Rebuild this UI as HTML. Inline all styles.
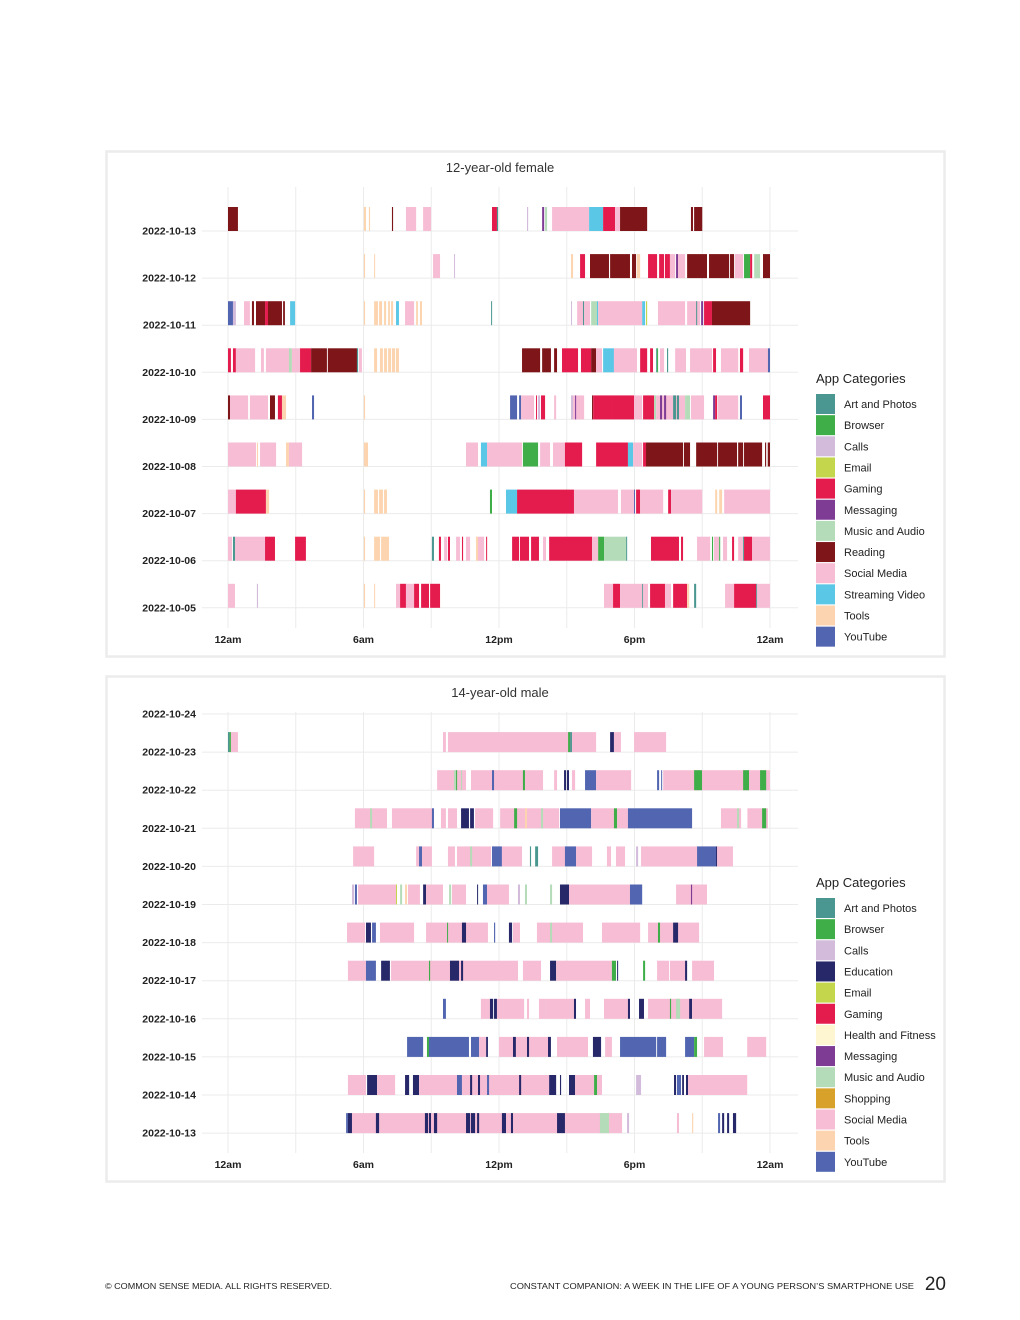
<!DOCTYPE html>
<html><head><meta charset="utf-8">
<style>
html,body{margin:0;padding:0;background:#fff;width:1020px;height:1320px;overflow:hidden}
svg{display:block}
text{font-family:"Liberation Sans",sans-serif}
</style></head>
<body>
<svg id="page" width="1020" height="1320" viewBox="0 0 1020 1320">
  <rect x="106.5" y="151.5" width="838" height="505" fill="#fff" stroke="#ececec" stroke-width="2.5"/>
  <rect x="106.5" y="676.5" width="838" height="505" fill="#fff" stroke="#ececec" stroke-width="2.5"/>
  <text x="500" y="172" font-size="13" fill="#333" text-anchor="middle">12-year-old female</text>
  <text x="500" y="697" font-size="13" fill="#333" text-anchor="middle">14-year-old male</text>
  <g id="g1"></g>
  <g id="g2"></g>
  <g id="leg1"></g>
  <g id="leg2"></g>
  <text x="105" y="1289" font-size="8.5" fill="#222" textLength="227" lengthAdjust="spacingAndGlyphs">© COMMON SENSE MEDIA. ALL RIGHTS RESERVED.</text>
  <text x="510" y="1289" font-size="8.5" fill="#222" textLength="404" lengthAdjust="spacingAndGlyphs">CONSTANT COMPANION: A WEEK IN THE LIFE OF A YOUNG PERSON’S SMARTPHONE USE</text>
  <text x="946" y="1290" font-size="19" fill="#222" text-anchor="end">20</text>
</svg>
<script>
const colors={A:'#4a9690',B:'#3fae49',C:'#d3bcdb',D:'#27286a',E:'#c4d64b',G:'#e41c4e',H:'#fdf6d0',M:'#7e3c95',U:'#b5dcb8',P:'#d8a22a',R:'#7e1518',S:'#f6bdd4',V:'#5bc7e6',T:'#fcd5b0',Y:'#5265b0'};
const catNames={A:'Art and Photos',B:'Browser',C:'Calls',D:'Education',E:'Email',G:'Gaming',H:'Health and Fitness',M:'Messaging',U:'Music and Audio',P:'Shopping',R:'Reading',S:'Social Media',V:'Streaming Video',T:'Tools',Y:'YouTube'};
const legend1=['A','B','C','E','G','M','U','R','S','V','T','Y'];
const legend2=['A','B','C','D','E','G','H','M','U','P','S','T','Y'];
const xTickHours=[0,6,12,18,24];
const xTickLabels=['12am','6am','12pm','6pm','12am'];
const dates1=['2022-10-13','2022-10-12','2022-10-11','2022-10-10','2022-10-09','2022-10-08','2022-10-07','2022-10-06','2022-10-05'];
const dates2=['2022-10-24','2022-10-23','2022-10-22','2022-10-21','2022-10-20','2022-10-19','2022-10-18','2022-10-17','2022-10-16','2022-10-15','2022-10-14','2022-10-13'];
const f13=[[0,0.44,'R'],[6.02,6.11,'T'],[6.24,6.29,'T'],[7.26,7.31,'R'],[7.88,8.33,'S'],[8.64,8.99,'S'],[11.69,11.91,'G'],[11.91,11.96,'A'],[13.24,13.29,'C'],[13.91,14.0,'M'],[14.04,14.13,'U'],[14.35,15.99,'S'],[15.99,16.61,'V'],[16.61,17.14,'G'],[17.14,17.36,'S'],[17.36,18.56,'R'],[20.5,20.59,'R'],[20.64,21.0,'R']];
const f12=[[6.02,6.07,'T'],[6.47,6.51,'T'],[9.08,9.39,'S'],[10.01,10.05,'C'],[15.19,15.28,'T'],[15.59,15.81,'G'],[16.03,16.87,'R'],[16.92,17.8,'R'],[17.89,18.07,'R'],[18.11,18.25,'T'],[18.6,19.0,'G'],[19.09,19.31,'G'],[19.35,19.57,'G'],[19.57,19.8,'S'],[19.84,19.93,'M'],[19.93,20.24,'S'],[20.33,21.21,'R'],[21.3,22.19,'R'],[22.23,22.41,'R'],[22.45,22.81,'S'],[22.85,23.12,'B'],[23.12,23.21,'G'],[23.3,23.56,'U'],[23.69,24.0,'R']];
const f11=[[0,0.22,'Y'],[0.22,0.35,'C'],[0.71,0.97,'S'],[1.06,1.15,'R'],[1.24,1.64,'R'],[1.64,1.77,'G'],[1.77,2.39,'R'],[2.44,2.52,'R'],[2.75,2.97,'V'],[6.02,6.07,'T'],[6.47,6.64,'T'],[6.69,6.82,'T'],[6.91,7.0,'T'],[7.09,7.17,'T'],[7.22,7.31,'T'],[7.44,7.57,'V'],[7.84,8.24,'S'],[8.33,8.41,'T'],[8.5,8.59,'T'],[11.65,11.69,'A'],[15.19,15.23,'C'],[15.46,15.72,'S'],[15.72,15.77,'A'],[15.77,16.03,'S'],[16.08,16.34,'U'],[16.34,16.39,'V'],[16.39,18.34,'S'],[18.34,18.47,'V'],[18.51,18.56,'E'],[19.04,20.24,'S'],[20.33,20.9,'S'],[20.73,20.77,'A'],[20.95,21.04,'M'],[21.08,21.43,'G'],[21.43,23.12,'R']];
const f10=[[0,0.13,'G'],[0.22,0.35,'G'],[0.35,1.2,'S'],[1.46,1.59,'S'],[1.68,2.75,'S'],[2.7,2.83,'U'],[2.83,3.19,'S'],[3.19,3.68,'G'],[3.68,4.38,'R'],[4.42,5.71,'R'],[5.71,5.76,'A'],[5.8,5.93,'S'],[6.47,6.6,'T'],[6.73,6.86,'T'],[6.91,7.04,'T'],[7.09,7.22,'T'],[7.26,7.4,'T'],[7.44,7.57,'T'],[13.02,13.82,'R'],[13.91,14.3,'R'],[14.44,14.57,'R'],[14.79,15.5,'G'],[15.63,16.08,'G'],[16.08,16.3,'R'],[16.3,16.56,'S'],[16.61,17.09,'V'],[17.09,18.11,'S'],[18.25,18.56,'G'],[18.69,18.82,'G'],[18.96,19.0,'A'],[19.0,19.04,'B'],[19.13,19.31,'S'],[19.44,19.49,'A'],[19.8,20.28,'S'],[20.46,21.43,'S'],[21.48,21.61,'G'],[21.83,22.59,'S'],[22.67,22.81,'G'],[23.07,23.91,'S'],[23.91,24.0,'Y']];
const f09=[[0,0.09,'R'],[0.09,0.89,'S'],[0.97,1.77,'S'],[1.86,2.08,'R'],[2.21,2.39,'G'],[2.39,2.57,'T'],[3.72,3.81,'Y'],[6.02,6.07,'T'],[12.49,12.8,'Y'],[12.89,12.98,'Y'],[12.98,13.55,'S'],[13.64,13.68,'G'],[13.73,13.82,'C'],[13.86,14.04,'G'],[14.44,14.53,'S'],[15.19,15.28,'C'],[15.28,15.77,'S'],[15.37,15.41,'M'],[16.12,16.17,'R'],[16.17,16.96,'G'],[16.96,17.98,'G'],[17.98,18.34,'S'],[18.38,18.87,'G'],[18.87,18.96,'U'],[18.96,20.24,'S'],[19.13,19.22,'M'],[19.31,19.4,'M'],[19.71,19.84,'A'],[19.88,19.97,'A'],[20.24,20.46,'U'],[20.5,21.08,'S'],[21.48,21.57,'M'],[21.57,21.66,'G'],[21.7,22.59,'S'],[22.67,22.76,'Y'],[23.69,24.0,'G']];
const f08=[[0,1.24,'S'],[1.28,1.33,'T'],[1.42,2.13,'S'],[2.57,2.7,'T'],[2.7,3.28,'S'],[6.02,6.2,'T'],[10.54,11.07,'S'],[11.2,11.47,'V'],[11.47,13.02,'S'],[13.06,13.73,'B'],[13.82,14.26,'S'],[14.39,14.92,'S'],[14.92,15.68,'G'],[16.3,17.71,'G'],[17.71,17.94,'V'],[17.94,18.34,'S'],[18.38,18.51,'G'],[18.51,20.15,'R'],[20.19,20.46,'R'],[20.73,21.66,'R'],[21.7,22.54,'R'],[22.59,22.81,'R'],[22.85,23.65,'R'],[23.78,23.83,'R'],[23.9,24.0,'R']];
const f07=[[0,0.35,'S'],[0.35,1.68,'G'],[1.68,1.82,'T'],[6.02,6.07,'T'],[6.47,6.64,'T'],[6.69,6.86,'T'],[6.91,7.04,'T'],[11.6,11.69,'B'],[12.31,12.8,'V'],[12.8,15.32,'G'],[15.32,17.27,'S'],[17.4,17.98,'S'],[17.98,18.02,'Y'],[18.07,18.25,'G'],[18.25,19.27,'S'],[19.49,19.62,'G'],[19.62,21.0,'S'],[21.57,21.66,'T'],[21.75,21.88,'T'],[21.97,24.0,'S']];
const f06=[[0,0.18,'S'],[0.22,0.31,'A'],[0.31,1.64,'S'],[1.64,2.08,'G'],[2.97,3.45,'G'],[6.02,6.07,'T'],[6.47,6.73,'T'],[6.78,7.13,'T'],[9.03,9.12,'A'],[9.34,9.43,'G'],[9.57,9.7,'S'],[9.74,9.83,'G'],[10.1,10.27,'S'],[10.36,10.41,'G'],[10.54,10.72,'S'],[10.98,11.07,'T'],[11.07,11.34,'S'],[11.43,11.47,'G'],[12.58,12.89,'G'],[12.93,13.33,'G'],[13.42,13.77,'G'],[13.95,14.08,'S'],[14.22,16.12,'G'],[16.12,16.39,'S'],[16.39,16.65,'B'],[16.65,17.63,'U'],[17.63,17.67,'A'],[18.73,19.97,'G'],[20.06,20.15,'G'],[20.77,21.35,'S'],[21.43,21.48,'B'],[21.52,21.75,'S'],[21.75,21.79,'B'],[21.92,22.1,'S'],[22.32,22.41,'G'],[22.59,22.81,'S'],[22.81,22.85,'A'],[22.85,23.21,'G'],[23.21,24.0,'S']];
const f05=[[0,0.31,'S'],[1.28,1.33,'C'],[6.02,6.07,'T'],[6.47,6.51,'T'],[7.44,7.62,'S'],[7.62,7.88,'G'],[7.88,8.24,'S'],[8.24,8.46,'G'],[8.55,8.9,'G'],[8.95,9.39,'G'],[16.65,17.05,'S'],[17.05,17.36,'G'],[17.36,18.34,'S'],[18.34,18.38,'A'],[18.38,18.6,'S'],[18.69,19.35,'G'],[19.35,19.62,'S'],[19.71,20.33,'G'],[20.33,20.42,'T'],[20.64,20.73,'A'],[22.01,22.41,'S'],[22.41,23.39,'G'],[23.39,23.43,'A'],[23.43,24.0,'S']];
const m24=[];
const m23=[[0,0.07,'A'],[0.07,0.13,'B'],[0.13,0.44,'S'],[9.52,9.65,'S'],[9.74,16.3,'S'],[15.06,15.15,'B'],[15.15,15.23,'A'],[16.92,17.09,'D'],[17.09,17.4,'S'],[17.98,19.4,'S']];
const m22=[[9.26,10.54,'S'],[10.01,10.1,'U'],[10.1,10.14,'B'],[10.32,10.36,'U'],[10.76,13.95,'S'],[11.69,11.78,'Y'],[13.06,13.15,'B'],[14.44,14.57,'S'],[14.88,14.97,'D'],[15.01,15.1,'D'],[15.23,15.37,'S'],[15.81,16.3,'Y'],[16.3,17.85,'S'],[19.0,19.09,'Y'],[19.18,19.22,'Y'],[19.27,24.0,'S'],[20.64,20.99,'B'],[22.81,23.07,'B'],[23.56,23.83,'B']];
const m21=[[5.62,7.04,'S'],[6.29,6.38,'U'],[7.26,9.08,'S'],[9.03,9.12,'Y'],[9.43,9.65,'S'],[9.74,10.14,'S'],[10.32,10.67,'D'],[10.72,10.89,'D'],[10.94,11.74,'S'],[12.05,14.66,'S'],[12.67,12.8,'B'],[13.15,13.24,'T'],[13.86,13.95,'U'],[14.7,16.08,'Y'],[16.08,17.09,'S'],[17.09,17.23,'B'],[17.23,17.71,'S'],[17.71,20.55,'Y'],[21.83,22.72,'S'],[22.54,22.63,'U'],[23.0,23.91,'S'],[23.65,23.83,'B']];
const m20=[[5.54,6.47,'S'],[8.33,8.46,'S'],[8.46,8.59,'Y'],[8.59,9.03,'S'],[9.74,10.05,'S'],[10.14,11.65,'S'],[10.72,10.81,'U'],[11.69,12.13,'Y'],[12.13,13.02,'S'],[13.37,13.42,'A'],[13.6,13.73,'A'],[14.35,14.92,'S'],[14.92,15.41,'Y'],[15.41,16.12,'S'],[16.78,16.96,'S'],[17.18,17.58,'S'],[18.07,18.16,'C'],[18.29,20.77,'S'],[20.77,21.61,'Y'],[21.61,21.66,'D'],[21.66,22.36,'S']];
const m19=[[5.49,5.58,'C'],[5.62,5.71,'Y'],[5.76,7.48,'S'],[7.44,7.48,'E'],[7.62,7.71,'U'],[7.84,7.93,'T'],[7.97,8.5,'S'],[8.64,8.77,'D'],[8.77,9.52,'S'],[9.79,9.88,'U'],[9.92,10.54,'S'],[11.03,11.07,'D'],[11.29,11.47,'Y'],[11.47,12.44,'S'],[12.84,12.93,'C'],[13.15,13.24,'U'],[14.26,14.35,'U'],[14.7,15.1,'D'],[15.1,17.8,'S'],[17.8,18.34,'Y'],[19.84,21.21,'S'],[20.5,20.55,'M']];
const m18=[[5.27,6.07,'S'],[6.11,6.33,'D'],[6.38,6.55,'Y'],[6.73,8.24,'S'],[8.77,11.51,'S'],[9.7,9.74,'B'],[10.36,10.54,'D'],[11.78,11.83,'Y'],[12.44,12.58,'D'],[12.62,12.93,'S'],[13.68,15.72,'S'],[14.26,14.35,'U'],[16.56,18.25,'S'],[18.6,20.86,'S'],[19.04,19.13,'B'],[19.71,19.93,'D']];
const m17=[[5.31,6.11,'S'],[6.11,6.55,'Y'],[6.78,7.17,'D'],[7.22,12.84,'S'],[8.9,8.95,'B'],[9.83,10.23,'D'],[10.32,10.41,'D'],[13.06,13.86,'S'],[14.26,14.53,'D'],[14.53,17.0,'S'],[17.0,17.18,'B'],[17.23,17.27,'D'],[18.38,18.47,'B'],[19.0,19.53,'S'],[19.57,20.28,'S'],[20.24,20.33,'D'],[20.55,21.52,'S']];
const m16=[[9.52,9.65,'Y'],[11.2,11.6,'S'],[11.6,11.74,'D'],[11.78,11.91,'D'],[11.91,13.11,'S'],[13.24,13.33,'S'],[13.77,14.04,'S'],[14.04,15.32,'S'],[15.32,15.41,'D'],[15.81,16.03,'S'],[16.65,17.71,'S'],[17.71,17.8,'D'],[18.2,18.42,'D'],[18.6,20.5,'S'],[19.57,19.62,'B'],[19.84,20.02,'U'],[20.42,20.55,'D'],[20.55,21.88,'S']];
const m15=[[7.93,8.64,'Y'],[8.81,8.9,'B'],[8.9,10.67,'Y'],[10.76,11.12,'Y'],[11.12,11.43,'S'],[11.43,11.51,'D'],[12.0,12.62,'S'],[12.62,12.75,'D'],[12.75,14.17,'S'],[13.24,13.33,'D'],[14.17,14.3,'D'],[14.57,15.94,'S'],[16.16,16.52,'D'],[16.7,17.0,'S'],[17.36,18.96,'Y'],[19.0,19.4,'Y'],[20.24,20.64,'Y'],[20.64,20.77,'B'],[21.08,21.92,'S'],[22.99,23.83,'S']];
const m14=[[5.31,6.11,'S'],[6.16,6.6,'D'],[6.6,7.4,'S'],[7.84,8.02,'D'],[8.19,8.46,'D'],[8.46,10.14,'S'],[10.14,10.36,'Y'],[10.36,14.22,'S'],[10.72,10.81,'D'],[11.07,11.16,'D'],[11.47,11.56,'Y'],[12.89,12.98,'D'],[14.22,14.53,'D'],[14.7,14.75,'D'],[15.1,15.37,'D'],[15.37,16.21,'S'],[16.21,16.34,'B'],[16.34,16.56,'S'],[18.07,18.29,'C'],[19.75,19.84,'D'],[19.88,20.06,'Y'],[20.11,20.19,'D'],[20.28,20.37,'D'],[20.37,22.99,'S']];
const m13=[[5.23,5.31,'Y'],[5.31,5.49,'D'],[5.49,17.45,'S'],[6.55,6.69,'D'],[8.72,8.86,'D'],[8.9,8.99,'D'],[9.12,9.26,'D'],[10.54,10.72,'D'],[10.76,10.94,'D'],[11.03,11.12,'D'],[12.13,12.31,'D'],[12.53,12.62,'D'],[14.57,14.92,'D'],[16.47,16.87,'U'],[17.67,17.76,'C'],[19.88,19.97,'S'],[20.55,20.6,'T'],[21.7,21.79,'Y'],[21.88,21.97,'D'],[22.1,22.19,'D'],[22.36,22.5,'D']];
const rows1=[f13,f12,f11,f10,f09,f08,f07,f06,f05];
const rows2=[m24,m23,m22,m21,m20,m19,m18,m17,m16,m15,m14,m13];

const NS='http://www.w3.org/2000/svg';
function mk(tag,attrs,parent){const e=document.createElementNS(NS,tag);for(const k in attrs)e.setAttribute(k,attrs[k]);parent.appendChild(e);return e;}
const X0=228,X1=770;
function xScale(h){return X0+h*(X1-X0)/24;}

function drawChart(g,dates,rows,cfg){
  for(let h=0;h<=24;h+=3){
    const l=mk('line',{x1:xScale(h),x2:xScale(h),y1:cfg.gTop,y2:cfg.gBot,stroke:'#ebebeb','stroke-width':1},g);
    
    
  }
  dates.forEach((d,i)=>{
    const y=cfg.y0+i*cfg.step;
    const l=mk('line',{x1:202,x2:798,y1:y,y2:y,stroke:'#ebebeb','stroke-width':1},g);
    
    
    const t=mk('text',{x:196,y:y+3.5,'font-size':10.5,'font-weight':'bold',fill:'#222','text-anchor':'end'},g);
    t.textContent=d;
    
    
  });
  rows.forEach((row,i)=>{
    const y=cfg.y0+i*cfg.step;
    row.forEach(s=>{
      const x1=xScale(s[0]),x2=xScale(s[1]);
      const r=mk('rect',{x:x1,y:y-cfg.h,width:Math.max(1,x2-x1),height:cfg.h,fill:colors[s[2]]},g);
      
      
    });
  });
  xTickHours.forEach((h,i)=>{
    const t=mk('text',{x:xScale(h),y:cfg.xl,'font-size':10.5,'font-weight':'bold',fill:'#222','text-anchor':'middle'},g);
    t.textContent=xTickLabels[i];
    
    
  });
}
drawChart(document.getElementById('g1'),dates1,rows1,{gTop:187,gBot:628,y0:231,step:47.1,h:24,xl:643});
drawChart(document.getElementById('g2'),dates2,rows2,{gTop:712,gBot:1153,y0:714,step:38.1,h:20,xl:1168});

function drawLegend(g,cats,top){
  const t=mk('text',{x:816,y:top-11,'font-size':13,fill:'#222'},g);
  t.textContent='App Categories';
  
  
  cats.forEach((c,i)=>{
    const y=top+i*21.15;
    const r=mk('rect',{x:816,y:y,width:19,height:20,fill:colors[c]},g);
    
    
    const l=mk('text',{x:844,y:y+14,'font-size':11,fill:'#222'},g);
    l.textContent=catNames[c];
    
    
  });
}
drawLegend(document.getElementById('leg1'),legend1,394);
drawLegend(document.getElementById('leg2'),legend2,898);
</script>
</body></html>
